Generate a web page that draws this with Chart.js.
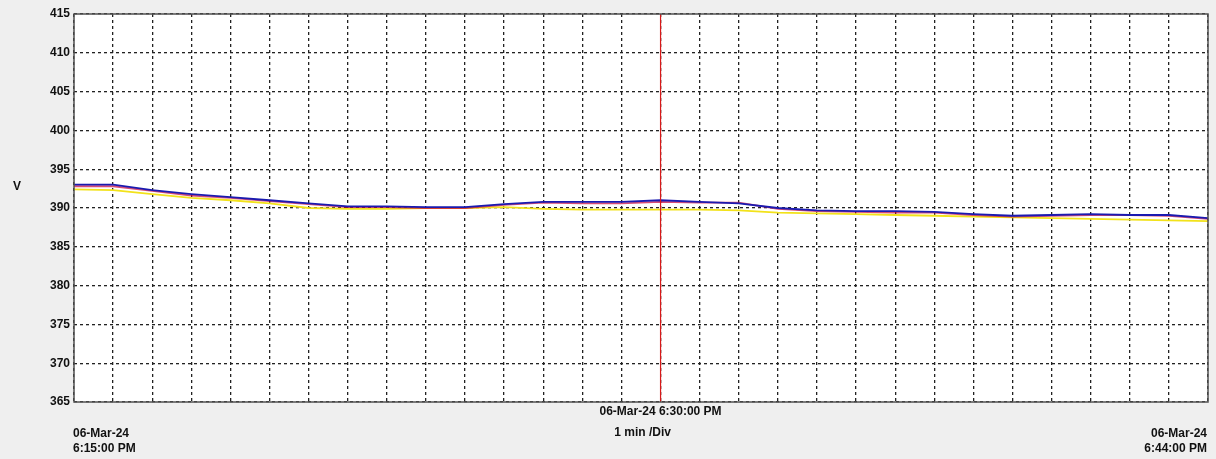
<!DOCTYPE html>
<html>
<head>
<meta charset="utf-8">
<script src="https://cdn.jsdelivr.net/npm/chart.js@4.4.1/dist/chart.umd.min.js"></script>
<style>
  html, body { margin: 0; padding: 0; background: #efefef; }
  #wrap { width: 1216px; height: 459px; }
</style>
</head>
<body>
<div id="wrap"><canvas id="myChart" width="1216" height="459"></canvas></div>
<script>
/* Minutes after 06-Mar-24 6:15:00 PM, one point per minute */
const minutes = [0, 1, 2, 3, 4, 5, 6, 7, 8, 9, 10, 11, 12, 13, 14, 15, 16, 17, 18, 19, 20, 21, 22, 23, 24, 25, 26, 27, 28, 29];

/* Voltage readings (V) */
const blueVolts = [393.0, 393.0, 392.3, 391.8, 391.4, 391.0, 390.6, 390.2, 390.2, 390.1, 390.1, 390.5, 390.8, 390.8, 390.8, 391.0, 390.8, 390.6, 390.0, 389.7, 389.6, 389.6, 389.5, 389.2, 389.0, 389.1, 389.2, 389.1, 389.1, 388.7];
const redVolts = [392.8, 392.8, 392.2, 391.6, 391.3, 390.9, 390.5, 390.1, 390.1, 390.0, 390.0, 390.4, 390.7, 390.6, 390.6, 390.8, 390.7, 390.7, 389.9, 389.6, 389.5, 389.4, 389.4, 389.1, 388.9, 389.0, 389.1, 389.1, 389.0, 388.6];
const yellowVolts = [392.4, 392.3, 391.8, 391.3, 391.0, 390.6, 390.0, 389.9, 389.9, 390.0, 390.0, 390.1, 389.9, 389.8, 389.8, 389.8, 389.8, 389.7, 389.4, 389.3, 389.2, 389.1, 389.0, 388.9, 388.8, 388.7, 388.6, 388.5, 388.4, 388.3];

const yTicks = [365, 370, 375, 380, 385, 390, 395, 400, 405, 410, 415];
const cursorMinute = 15;

const startLabel = ['06-Mar-24', '6:15:00 PM'];
const endLabel = ['06-Mar-24', '6:44:00 PM'];
const cursorLabel = '06-Mar-24 6:30:00 PM';
const divLabel = '1 min /Div';
const unitLabel = 'V';

function toPoints(values) {
    return values.map((v, i) => ({ x: minutes[i], y: v }));
}

/* Paints the grey surround, white plot and the text around it */
const framePlugin = {
    id: 'frame',
    beforeDraw(chart) {
        const c = chart.ctx;
        const a = chart.chartArea;
        c.save();
        c.fillStyle = '#efefef';
        c.fillRect(0, 0, chart.width, chart.height);
        c.fillStyle = '#ffffff';
        c.fillRect(a.left, a.top, a.right - a.left, a.bottom - a.top);
        c.restore();
    },
    afterDraw(chart) {
        const c = chart.ctx;
        const a = chart.chartArea;
        const xs = chart.scales.x;
        c.save();
        c.strokeStyle = '#505050';
        c.lineWidth = 1.5;
        c.strokeRect(a.left, a.top, a.right - a.left, a.bottom - a.top);

        c.fillStyle = '#111111';
        c.font = 'bold 12px "Liberation Sans", Arial, sans-serif';
        c.textBaseline = 'middle';

        c.textAlign = 'left';
        c.fillText(startLabel[0], xs.getPixelForValue(minutes[0]) - 1, 434);
        c.fillText(startLabel[1], xs.getPixelForValue(minutes[0]) - 1, 449);

        c.textAlign = 'right';
        c.fillText(endLabel[0], xs.getPixelForValue(minutes[minutes.length - 1]) - 1, 434);
        c.fillText(endLabel[1], xs.getPixelForValue(minutes[minutes.length - 1]) - 1, 449);

        c.textAlign = 'center';
        c.fillText(cursorLabel, xs.getPixelForValue(cursorMinute), 412);
        c.fillText(divLabel, xs.getPixelForValue(cursorMinute) - 18, 433);

        c.fillText(unitLabel, 17, 187);
        c.restore();
    }
};

const ctx = document.getElementById('myChart');
new Chart(ctx, {
    type: 'line',
    data: {
        datasets: [
            {
                label: 'cursor',
                data: [{ x: cursorMinute, y: yTicks[0] }, { x: cursorMinute, y: yTicks[yTicks.length - 1] }],
                borderColor: '#d81818',
                borderWidth: 1.2,
                pointRadius: 0
            },
            {
                label: 'Blue',
                data: toPoints(blueVolts),
                borderColor: '#1a1ab0',
                borderWidth: 1.8,
                pointRadius: 0
            },
            {
                label: 'Red',
                data: toPoints(redVolts),
                borderColor: 'rgba(200, 0, 60, 0.7)',
                borderWidth: 1.8,
                pointRadius: 0
            },
            {
                label: 'Yellow',
                data: toPoints(yellowVolts),
                borderColor: '#f2e21a',
                borderWidth: 1.8,
                pointRadius: 0
            }
        ]
    },
    options: {
        responsive: false,
        animation: false,
        layout: { padding: { top: 14, right: 8, left: 0, bottom: 0 } },
        plugins: {
            legend: { display: false },
            tooltip: { enabled: false }
        },
        scales: {
            x: {
                type: 'linear',
                min: minutes[0],
                max: minutes[minutes.length - 1],
                ticks: { stepSize: 1, display: false },
                grid: {
                    color: '#222222',
                    lineWidth: 1.3,
                    drawTicks: false
                },
                border: { display: false, dash: [3, 3] },
                afterFit(scale) { scale.height = 57; }
            },
            y: {
                min: yTicks[0],
                max: yTicks[yTicks.length - 1],
                afterBuildTicks(scale) { scale.ticks = yTicks.map(v => ({ value: v })); },
                ticks: {
                    color: '#111111',
                    padding: 4,
                    font: { family: '"Liberation Sans", Arial, sans-serif', size: 12, weight: 'bold' }
                },
                grid: {
                    color: '#222222',
                    lineWidth: 1.3,
                    drawTicks: false
                },
                border: { display: false, dash: [3, 3] },
                afterFit(scale) { scale.width = 74; }
            }
        }
    },
    plugins: [framePlugin]
});
</script>
</body>
</html>
